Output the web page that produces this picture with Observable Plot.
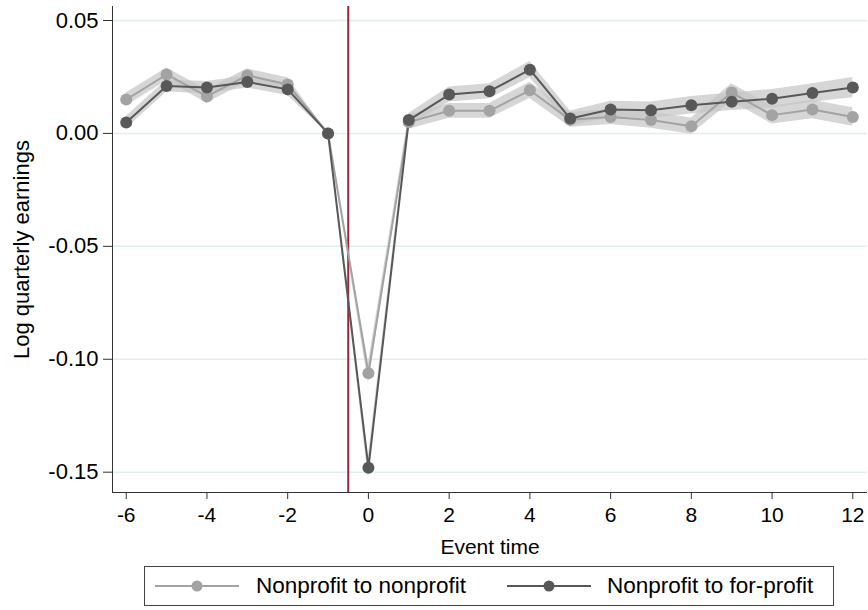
<!DOCTYPE html>
<html>
<head>
<meta charset="utf-8">
<script src="https://cdn.jsdelivr.net/npm/d3@7"></script>
<script src="https://cdn.jsdelivr.net/npm/@observablehq/plot@0.6"></script>
<style>
  html, body { margin: 0; padding: 0; background: #fff; }
  #wrap { position: relative; width: 868px; height: 610px; font-family: 'Liberation Sans', Arial, sans-serif; }
  #legend { position: absolute; left: 144px; top: 566px; width: 690px; height: 40px; border: 1px solid #444; box-sizing: border-box; background: #fff; }
  .sw { position: absolute; top: 9px; }
  .lt { position: absolute; top: 0; line-height: 38px; font-size: 22.5px; color: #000; white-space: nowrap; }
</style>
</head>
<body>
<div id="wrap">
  <div id="chart"></div>
  <div id="legend"></div>
</div>
<script>
// ---- data ----
const eventTime = [-6, -5, -4, -3, -2, -1, 0, 1, 2, 3, 4, 5, 6, 7, 8, 9, 10, 11, 12];
const seriesNames = ["Nonprofit to nonprofit", "Nonprofit to for-profit"];
const nonprofitToNonprofit = [0.0150, 0.0261, 0.0164, 0.0257, 0.0217, 0, -0.1062, 0.0050, 0.0100, 0.0100, 0.0191, 0.0060, 0.0073, 0.0059, 0.0032, 0.0181, 0.0081, 0.0106, 0.0073];
const nonprofitToForprofit = [0.0048, 0.0210, 0.0203, 0.0228, 0.0195, 0, -0.1480, 0.0059, 0.0172, 0.0187, 0.0282, 0.0066, 0.0106, 0.0103, 0.0125, 0.0140, 0.0154, 0.0179, 0.0203];
const ciHalfNonprofit = [0.0029, 0.0029, 0.0029, 0.0029, 0.0029, 0, 0.0045, 0.0032, 0.0033, 0.0033, 0.0036, 0.0033, 0.0033, 0.0036, 0.0036, 0.0039, 0.0039, 0.0041, 0.0041];
const ciHalfForprofit = [0.0027, 0.0027, 0.0027, 0.0027, 0.0027, 0, 0.0050, 0.0029, 0.0033, 0.0033, 0.0036, 0.0033, 0.0036, 0.0036, 0.0039, 0.0039, 0.0041, 0.0041, 0.0045];
const xTicks = [-6, -4, -2, 0, 2, 4, 6, 8, 10, 12];
const yTicks = [0.05, 0.00, -0.05, -0.10, -0.15];
const eventLine = -0.5;

const colors = { "Nonprofit to nonprofit": "#a3a3a3", "Nonprofit to for-profit": "#585858" };

const rows = [];
[[seriesNames[0], nonprofitToNonprofit, ciHalfNonprofit], [seriesNames[1], nonprofitToForprofit, ciHalfForprofit]]
  .forEach(([name, vals, hw]) => {
    vals.forEach((v, i) => rows.push({ series: name, t: eventTime[i], v, lo: v - hw[i], hi: v + hw[i] }));
  });

const xDomain = [-6.34, 12.364];
const yDomain = [-0.159, 0.0562];

const chart = Plot.plot({
  width: 868,
  height: 560,
  marginLeft: 112,
  marginRight: 1,
  marginTop: 6,
  marginBottom: 68,
  style: { fontFamily: "'Liberation Sans', Arial, sans-serif", fontSize: "22px", color: "#000", background: "#fff", overflow: "visible" },
  x: { domain: xDomain },
  y: { domain: yDomain },
  marks: [
    Plot.gridY(yTicks, { stroke: "#e2edf0", strokeOpacity: 1, strokeWidth: 1.5 }),
    Plot.areaY(rows, { x: "t", y1: "lo", y2: "hi", z: "series", fill: "#c4c4c4", fillOpacity: 0.7 }),
    Plot.ruleX([eventLine], { stroke: "#962937", strokeWidth: 2 }),
    Plot.line(rows, { x: "t", y: "v", z: "series", stroke: d => colors[d.series], strokeWidth: 2 }),
    Plot.dot(rows, { x: "t", y: "v", r: 6, fill: d => colors[d.series], stroke: "none" }),
    Plot.ruleX([xDomain[0]], { stroke: "#333" }),
    Plot.ruleY([yDomain[0]], { stroke: "#333" }),
    Plot.axisY(yTicks, { tickFormat: d => d.toFixed(2), tickSize: 9, tickPadding: 5, stroke: "#333",
      label: "Log quarterly earnings", labelAnchor: "center", labelOffset: 99, labelArrow: "none" }),
    Plot.axisX(xTicks, { tickFormat: d => String(d), tickSize: 7, tickPadding: 8, stroke: "#333",
      fontSize: 21, label: null }),
    Plot.text(["Event time"], { frameAnchor: "bottom", dy: 61, lineAnchor: "bottom", fontSize: 21 })
  ]
});
document.getElementById("chart").appendChild(chart);

// legend
const legend = document.getElementById("legend");
const legendPos = [{ sw: 10, tx: 111 }, { sw: 362, tx: 462 }];
seriesNames.forEach((name, i) => {
  const c = colors[name];
  const sw = document.createElementNS("http://www.w3.org/2000/svg", "svg");
  sw.setAttribute("width", 84); sw.setAttribute("height", 20);
  sw.setAttribute("class", "sw");
  sw.style.left = legendPos[i].sw + "px";
  sw.innerHTML = `<line x1="0" x2="84" y1="10" y2="10" stroke="${c}" stroke-width="2"/><circle cx="42" cy="10" r="5.5" fill="${c}"/>`;
  legend.appendChild(sw);
  const t = document.createElement("span");
  t.className = "lt";
  t.style.left = legendPos[i].tx + "px";
  t.textContent = name;
  legend.appendChild(t);
});
</script>
</body>
</html>
